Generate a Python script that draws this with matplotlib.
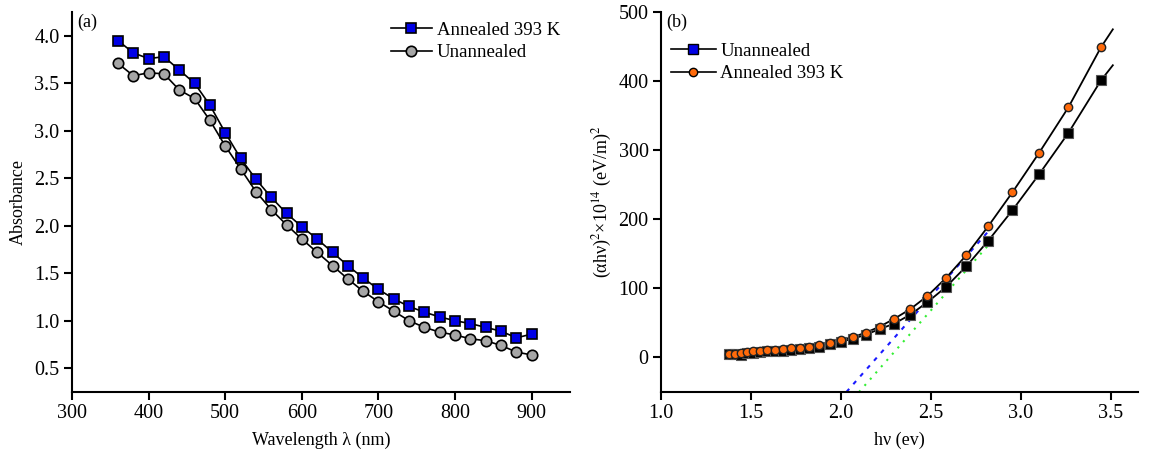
from matplotlib import pyplot as plt
from matplotlib.lines import Line2D
import numpy as np

plt.rcParams['font.family'] = ['Liberation Serif', 'DejaVu Serif']
plt.rcParams['mathtext.fontset'] = 'stix'

## (a) absorbance data
wl = [360, 380, 400, 420, 440, 460, 480, 500, 520, 540, 560, 580, 600, 620,
      640, 660, 680, 700, 720, 740, 760, 780, 800, 820, 840, 860, 880, 900]
abs_ann = [3.95, 3.82, 3.76, 3.78, 3.64, 3.50, 3.27, 2.98, 2.71, 2.49, 2.30, 2.13, 1.99, 1.86,
           1.72, 1.58, 1.45, 1.33, 1.23, 1.15, 1.09, 1.04, 1.00, 0.97, 0.93, 0.89, 0.82, 0.86]
abs_unann = [3.71, 3.58, 3.61, 3.60, 3.43, 3.34, 3.11, 2.84, 2.60, 2.36, 2.17, 2.01, 1.86, 1.72,
             1.58, 1.44, 1.31, 1.20, 1.10, 1.00, 0.93, 0.88, 0.85, 0.81, 0.79, 0.74, 0.67, 0.64]

## (b) Tauc plot data
hv = [1.378, 1.409, 1.442, 1.476, 1.512, 1.550, 1.590, 1.632, 1.676, 1.722, 1.771, 1.824, 1.879, 1.938,
      2.000, 2.067, 2.138, 2.214, 2.296, 2.385, 2.480, 2.583, 2.696, 2.818, 2.952, 3.100, 3.263, 3.444]
tauc_unann = [5, 5, 3, 6, 7, 8, 9, 10, 10, 11, 12, 13, 15.5, 19,
              23, 27, 33, 41, 49, 62, 80, 102, 132, 169, 213, 265, 325, 401]
tauc_ann = [5.5, 5, 7, 8.5, 9.5, 10, 11, 11, 12, 13.5, 13.5, 15.5, 18.5, 21,
            25.5, 29.5, 36, 44.5, 56, 70, 89, 115, 148, 190, 239, 296, 362, 449]
# curve end beyond last point
tail_hv = 3.51
tail_unann = 423
tail_ann = 475
# tangent lines (hv, y)
tan_ann_hv = [2.03, 2.83]
tan_ann_y = [-50, 186]
tan_unann_hv = [2.10, 2.83]
tan_unann_y = [-50, 166]

fig = plt.figure(figsize=(11.5, 4.55), dpi=100)
ax1 = fig.add_axes([0.0626, 0.1385, 0.4331, 0.835])
ax2 = fig.add_axes([0.5748, 0.1385, 0.4148, 0.835])

for ax in (ax1, ax2):
    ax.spines['top'].set_visible(False)
    ax.spines['right'].set_visible(False)
    ax.spines['left'].set_linewidth(1.5)
    ax.spines['bottom'].set_linewidth(1.5)
    ax.tick_params(direction='out', length=6, width=1.5, labelsize=14.5, pad=3)

## panel a
ax1.plot(wl, abs_unann, '-o', color='black', lw=1.2, ms=7.5,
         mfc='#a6a6a6', mec='black', mew=1.2, label='Unannealed')
ax1.plot(wl, abs_ann, '-s', color='black', lw=1.2, ms=7.5,
         mfc='#0000e6', mec='black', mew=1.2, label='Annealed 393 K')
ax1.set_xlim(300, 950)
ax1.set_ylim(0.25, 4.25)
ax1.set_xticks([300, 400, 500, 600, 700, 800, 900])
ax1.set_yticks([0.5, 1.0, 1.5, 2.0, 2.5, 3.0, 3.5, 4.0])
ax1.set_yticklabels(['0.5', '1.0', '1.5', '2.0', '2.5', '3.0', '3.5', '4.0'])
ax1.set_xlabel('Wavelength λ (nm)', fontsize=13, labelpad=6)
ax1.set_ylabel('Absorbance', fontsize=13, labelpad=5)
ax1.text(0.01, 0.995, '(a)', transform=ax1.transAxes, fontsize=13, va='top')
h, l = ax1.get_legend_handles_labels()
ax1.legend(h[::-1], l[::-1], loc='upper left', bbox_to_anchor=(0.64, 0.975),
           frameon=False, fontsize=13.5, handlelength=2.2, handletextpad=0.25,
           borderaxespad=0, borderpad=0, labelspacing=0.3)

## panel b
ax2.plot(tan_ann_hv, tan_ann_y, ls=(0, (2, 3)), color='#1a1aff', lw=1.5)
ax2.plot(tan_unann_hv, tan_unann_y, ls=(0, (1, 3)), color='#33ee33', lw=1.5)
ax2.plot(hv + [tail_hv], tauc_unann + [tail_unann], '-', color='black', lw=1.3)
ax2.plot(hv + [tail_hv], tauc_ann + [tail_ann], '-', color='black', lw=1.3)
ax2.plot(hv, tauc_unann, 's', ms=7, mfc='black', mec='#555555', mew=0.8)
ax2.plot(hv, tauc_ann, 'o', ms=6, mfc='#ff6a0a', mec='#222222', mew=1.0)
ax2.set_xlim(1.0, 3.65)
ax2.set_ylim(-50, 500)
ax2.set_xticks([1.0, 1.5, 2.0, 2.5, 3.0, 3.5])
ax2.set_yticks([0, 100, 200, 300, 400, 500])
ax2.set_xlabel('hν (ev)', fontsize=13, labelpad=6)
ax2.set_ylabel(r'(αhν)$^{2}$×10$^{14}$ (eV/m)$^{2}$', fontsize=13, labelpad=3)
ax2.text(0.012, 0.995, '(b)', transform=ax2.transAxes, fontsize=13, va='top')
handles = [Line2D([], [], color='black', lw=1.2, marker='s', ms=7,
                  mfc='#0000e6', mec='black', mew=1.0),
           Line2D([], [], color='black', lw=1.2, marker='o', ms=6,
                  mfc='#ff6a0a', mec='black', mew=1.0)]
ax2.legend(handles, ['Unannealed', 'Annealed 393 K'], loc='upper left',
           bbox_to_anchor=(0.02, 0.92), frameon=False, fontsize=13.5,
           handlelength=2.4, handletextpad=0.25, borderaxespad=0, borderpad=0,
           labelspacing=0.3)

fig.savefig('out.png', dpi=100)
